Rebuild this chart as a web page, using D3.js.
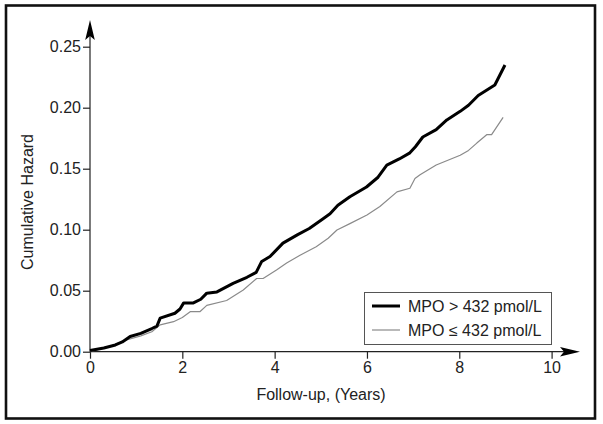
<!DOCTYPE html>
<html><head><meta charset="utf-8">
<script src="https://cdn.jsdelivr.net/npm/d3@7"></script>
<style>
html,body{margin:0;padding:0;background:#fff;}
svg text{font-family:"Liberation Sans",Arial,Helvetica,sans-serif;}
</style></head>
<body><svg id="c" width="603" height="424"></svg>
<script>
// Data
const highTime = [0,0.3,0.55,0.7,0.87,1.1,1.34,1.45,1.52,1.84,1.95,2.03,2.24,2.4,2.53,2.75,3.1,3.4,3.6,3.72,3.9,4.18,4.5,4.75,5.05,5.2,5.37,5.63,5.99,6.24,6.43,6.7,6.93,7.05,7.21,7.5,7.73,8.02,8.2,8.41,8.77,8.99];
const highHazard = [0.001,0.003,0.0055,0.008,0.0125,0.015,0.019,0.021,0.0275,0.0315,0.035,0.040,0.040,0.043,0.048,0.049,0.056,0.061,0.065,0.074,0.078,0.089,0.096,0.101,0.109,0.113,0.120,0.127,0.135,0.143,0.153,0.158,0.163,0.168,0.176,0.182,0.190,0.197,0.202,0.210,0.2186,0.235];
const lowTime = [0,0.4,0.79,1.1,1.34,1.52,1.81,2.0,2.17,2.38,2.53,2.96,3.32,3.61,3.75,4.04,4.26,4.55,4.9,5.16,5.35,5.63,6.0,6.28,6.65,6.93,7.04,7.15,7.5,8.02,8.2,8.38,8.6,8.7,8.95];
const lowHazard = [0,0.004,0.0096,0.013,0.0164,0.022,0.0246,0.028,0.0328,0.0328,0.038,0.042,0.0506,0.060,0.060,0.067,0.0727,0.079,0.086,0.093,0.0998,0.105,0.112,0.119,0.131,0.134,0.142,0.145,0.153,0.161,0.165,0.171,0.178,0.178,0.192];
const xTicks = [0,2,4,6,8,10];
const yTicks = [0,0.05,0.10,0.15,0.20,0.25];
const seriesLabels = ["MPO > 432 pmol/L","MPO \u2264 432 pmol/L"];
const xTitle = "Follow-up, (Years)";
const yTitle = "Cumulative Hazard";

const svg = d3.select("#c");
const x = d3.scaleLinear().domain([0,10]).range([90,551.6]);
const y = d3.scaleLinear().domain([0,0.25]).range([351.7,46.7]);

// outer frame
svg.append("rect").attr("x",6).attr("y",5.5).attr("width",589).attr("height",413)
  .attr("fill","none").attr("stroke","#111").attr("stroke-width",2.6);

// axes lines with arrows
const ax = svg.append("g");
ax.append("line").attr("x1",x(0)).attr("x2",568).attr("y1",y(0)).attr("y2",y(0)).attr("stroke","#222").attr("stroke-width",1.2);
ax.append("line").attr("x1",x(0)).attr("x2",x(0)).attr("y1",y(0)).attr("y2",32).attr("stroke","#222").attr("stroke-width",1.2);
ax.append("path").attr("d",`M${x(0)},20 L${x(0)-4.8},40 L${x(0)},36 L${x(0)+4.8},40 Z`).attr("fill","#000");
ax.append("path").attr("d",`M580,${y(0)} L560,${y(0)-4.8} L564,${y(0)} L560,${y(0)+4.8} Z`).attr("fill","#000");

// ticks
const xa = svg.append("g").attr("transform",`translate(0,${y(0)})`)
  .call(d3.axisBottom(x).tickValues(xTicks).tickFormat(d3.format("d")).tickSize(7).tickPadding(3));
xa.select(".domain").remove();
const ya = svg.append("g").attr("transform",`translate(${x(0)},0)`)
  .call(d3.axisLeft(y).tickValues(yTicks).tickFormat(d3.format(".2f")).tickSize(7).tickPadding(2));
ya.select(".domain").remove();
svg.selectAll(".tick line").attr("stroke","#222").attr("stroke-width",1.2);
svg.selectAll(".tick text").attr("font-size",16).attr("fill","#222").style("font-family","'Liberation Sans',Arial,sans-serif");

// titles
svg.append("text").attr("x",321).attr("y",400).attr("text-anchor","middle").attr("font-size",16).attr("fill","#222").text(xTitle);
svg.append("text").attr("transform","translate(33,202) rotate(-90)").attr("text-anchor","middle").attr("font-size",16).attr("fill","#222").text(yTitle);

// lines
const line = d3.line().x(d=>x(d[0])).y(d=>y(d[1]));
svg.append("path").datum(lowTime.map((t,i)=>[t,lowHazard[i]])).attr("d",line)
  .attr("fill","none").attr("stroke","#8a8a8a").attr("stroke-width",1.2).attr("stroke-linejoin","round");
svg.append("path").datum(highTime.map((t,i)=>[t,highHazard[i]])).attr("d",line)
  .attr("fill","none").attr("stroke","#000").attr("stroke-width",3).attr("stroke-linejoin","round");

// legend
const lg = svg.append("g");
lg.append("rect").attr("x",364.5).attr("y",292.5).attr("width",187).attr("height",52)
  .attr("fill","#fff").attr("stroke","#555").attr("stroke-width",1);
const styles = [{c:"#000",w:3},{c:"#8a8a8a",w:1.2}];
seriesLabels.forEach((s,i)=>{
  const yy = 306 + i*24;
  lg.append("line").attr("x1",372).attr("x2",400).attr("y1",yy).attr("y2",yy).attr("stroke",styles[i].c).attr("stroke-width",styles[i].w);
  lg.append("text").attr("x",408).attr("y",yy+6).attr("font-size",16).attr("fill","#222").text(s);
});
</script></body></html>
